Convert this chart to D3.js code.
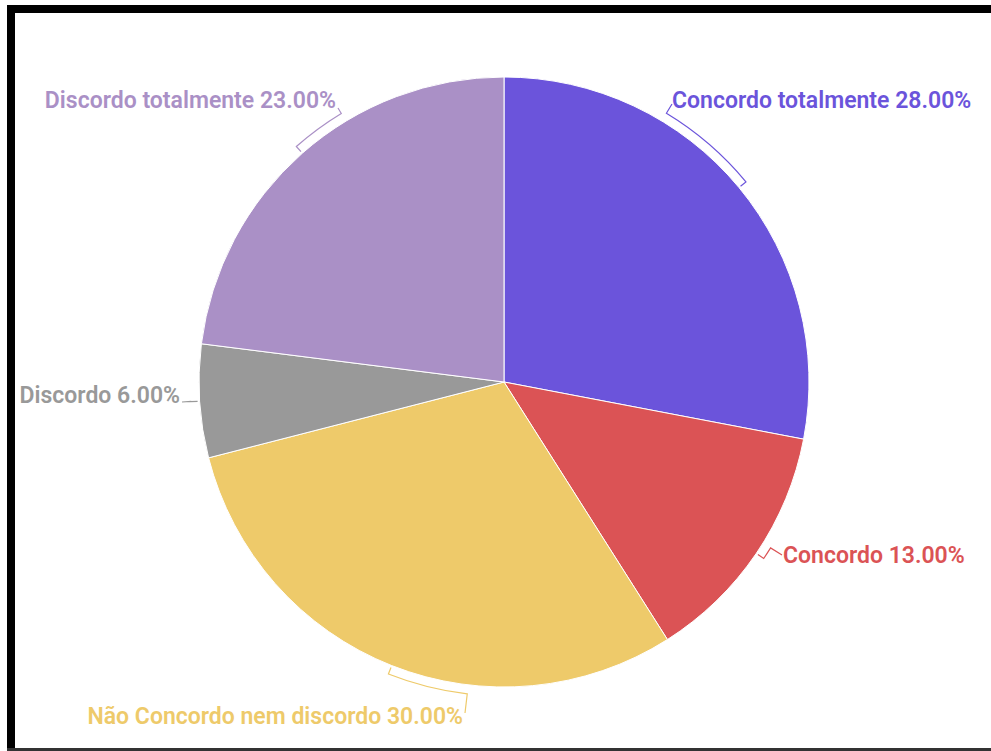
<!DOCTYPE html>
<html>
<head>
<meta charset="utf-8">
<script src="https://cdn.jsdelivr.net/npm/d3@7/dist/d3.min.js"></script>
<style>
  html, body { margin: 0; padding: 0; background: #fff; }
  svg { display: block; }
  text { font-family: Roboto, "Noto Sans", sans-serif; font-weight: 600; }
</style>
</head>
<body>
<svg id="chart" width="991" height="751"></svg>
<script>
// Survey answers, clockwise from 12 o'clock
const categories = [
  "Concordo totalmente",
  "Concordo",
  "Não Concordo nem discordo",
  "Discordo",
  "Discordo totalmente"
];
const percentages = [28, 13, 30, 6, 23];
const colors = ["#6b54db", "#db5355", "#eeca6a", "#999999", "#aa90c6"];

// Label placement: text anchor point and where the leader meets the text
const labelLayout = [
  { x: 672, y: 100, anchor: "start", lx: 672, ly: 104 },
  { x: 783, y: 555, anchor: "start", lx: 782, ly: 555 },
  { x: 463, y: 716, anchor: "end",   lx: 465, ly: 713 },
  { x: 180, y: 395, anchor: "end",   lx: 182, ly: 402 },
  { x: 336, y: 100, anchor: "end",   lx: 338, ly: 108 }
];

const svg = d3.select("#chart");
const W = 991, H = 751;

// Frame
svg.append("rect").attr("x", 7).attr("y", 5).attr("width", W - 7).attr("height", 8).attr("fill", "#000");
svg.append("rect").attr("x", 7).attr("y", 5).attr("width", 8).attr("height", H - 5).attr("fill", "#000");
svg.append("rect").attr("x", 7).attr("y", 748).attr("width", W - 7).attr("height", 3).attr("fill", "#333");

const cx = 504, cy = 382, r = 305;
const g = svg.append("g").attr("transform", `translate(${cx},${cy})`);

const rows = categories.map((c, i) => ({ name: c, value: percentages[i], color: colors[i], layout: labelLayout[i] }));

const pie = d3.pie().value(d => d.value).sort(null);
const arcs = pie(rows);
const arcGen = d3.arc().innerRadius(0).outerRadius(r);

g.selectAll("path.slice")
  .data(arcs)
  .enter().append("path")
  .attr("class", "slice")
  .attr("d", arcGen)
  .attr("fill", d => d.data.color)
  .attr("stroke", "#fff")
  .attr("stroke-width", 1);

// Leader lines: a short tick at the slice middle, an arc hugging the rim,
// then a straight run to the label
const polar = (rad, a) => [rad * Math.sin(a), -rad * Math.cos(a)];
const rimTick0 = r + 2, rimTick1 = r + 9;

arcs.forEach(d => {
  const L = d.data.layout;
  const mid = (d.startAngle + d.endAngle) / 2;
  const ax = L.lx - cx, ay = L.ly - cy;
  let end = Math.atan2(ax, -ay);
  if (end < 0) end += 2 * Math.PI;

  const p0 = polar(rimTick0, mid);
  const p1 = polar(rimTick1, mid);
  const p2 = polar(rimTick1, end);
  const sweep = end > mid ? 1 : 0;
  const large = Math.abs(end - mid) > Math.PI ? 1 : 0;
  const path = `M${p0[0]},${p0[1]}L${p1[0]},${p1[1]}` +
    `A${rimTick1},${rimTick1} 0 ${large} ${sweep} ${p2[0]},${p2[1]}` +
    `L${ax},${ay}`;
  g.append("path")
    .attr("d", path)
    .attr("fill", "none")
    .attr("stroke", d.data.color)
    .attr("stroke-width", 1.2);
});

// Labels
svg.selectAll("text.label")
  .data(arcs)
  .enter().append("text")
  .attr("class", "label")
  .attr("x", d => d.data.layout.x)
  .attr("y", d => d.data.layout.y)
  .attr("dy", "0.35em")
  .attr("text-anchor", d => d.data.layout.anchor)
  .attr("font-size", 23)
  .attr("fill", d => d.data.color)
  .text(d => `${d.data.name} ${d.data.value.toFixed(2)}%`);
</script>
</body>
</html>
